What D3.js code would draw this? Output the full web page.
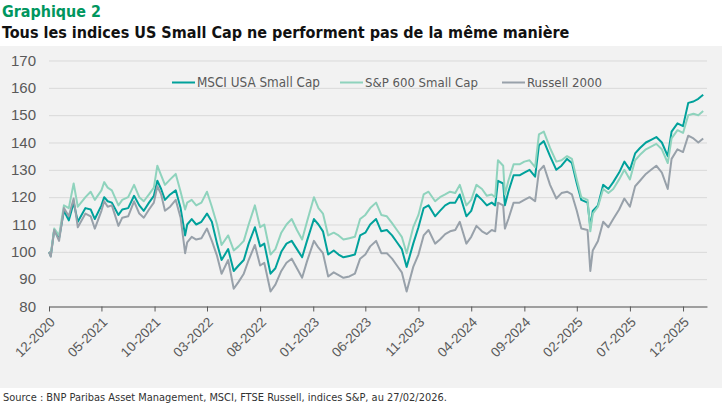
<!DOCTYPE html>
<html>
<head>
<meta charset="utf-8">
<script src="https://cdn.jsdelivr.net/npm/d3@7"></script>
<style>
  body { margin: 0; background: #fff; }
  svg { display: block; }
</style>
</head>
<body>
<div class="canvas"></div>
<script>
// dates of the points (roughly two per month + turning points)
const dates = [
  '2020-12-31',
  '2021-01-05','2021-01-15','2021-01-29','2021-02-12','2021-02-26','2021-03-12','2021-03-24','2021-04-15','2021-04-30',
  '2021-05-12','2021-05-31','2021-06-08','2021-06-18','2021-06-30','2021-07-19','2021-07-30','2021-08-16','2021-09-02',
  '2021-09-17','2021-09-30','2021-10-15','2021-10-29','2021-11-08','2021-11-19','2021-11-30','2021-12-15','2021-12-31',
  '2022-01-14','2022-01-27','2022-02-02','2022-02-15','2022-02-28','2022-03-15','2022-03-31','2022-04-14','2022-04-29',
  '2022-05-12','2022-05-31','2022-06-16','2022-06-30','2022-07-15','2022-07-29','2022-08-16','2022-08-31','2022-09-12',
  '2022-09-30','2022-10-14','2022-10-31','2022-11-15','2022-11-30','2022-12-15','2022-12-30',
  '2023-01-13','2023-02-02','2023-02-15','2023-02-28','2023-03-15','2023-03-31','2023-04-14','2023-04-28','2023-05-15',
  '2023-05-31','2023-06-15','2023-06-30','2023-07-14','2023-07-31','2023-08-15','2023-08-31','2023-09-15','2023-09-29',
  '2023-10-13','2023-10-27','2023-11-15','2023-11-30','2023-12-15','2023-12-29',
  '2024-01-17','2024-01-31','2024-02-15','2024-02-29','2024-03-15','2024-03-28','2024-04-16','2024-04-30','2024-05-15',
  '2024-05-31','2024-06-14','2024-06-28','2024-07-08','2024-07-16','2024-07-31','2024-08-05','2024-08-15','2024-08-30',
  '2024-09-16','2024-09-30','2024-10-15','2024-10-31','2024-11-11','2024-11-25','2024-12-13','2024-12-31',
  '2025-01-15','2025-01-31','2025-02-14','2025-02-28','2025-03-13','2025-03-31','2025-04-08','2025-04-15','2025-04-30',
  '2025-05-15','2025-05-30','2025-06-13','2025-06-30','2025-07-15','2025-07-31','2025-08-15','2025-08-29','2025-09-15',
  '2025-09-30','2025-10-15','2025-10-31','2025-11-17','2025-11-28','2025-12-15','2025-12-31',
  '2026-01-15','2026-01-30','2026-02-13','2026-02-27'
];

const msci = [
  100,
  98.5, 108, 105, 115, 111.5, 118, 111, 116, 115.5,
  112, 117, 120, 118.5, 118, 113.5, 115.5, 116, 120.5,
  117, 115, 118, 120.5, 126, 123, 119, 121, 122.5,
  116, 106, 110, 112, 110, 111, 114, 111, 103,
  97, 101, 93, 95, 97, 103, 109, 102, 103,
  92, 94, 100, 103, 104, 101, 98,
  104, 112, 110, 107.5, 99, 100.5, 99, 98, 98.5,
  99, 106, 107, 110, 112, 107.5, 108, 106, 103.5,
  101, 94.5, 103, 109, 116, 117,
  113, 115, 117, 118, 118, 121, 113, 115, 121,
  119, 117, 118, 117, 126, 125, 117, 122, 128,
  128, 129, 130, 127.5, 139, 140.5, 135, 130,
  131.5, 134, 132.5, 125, 119, 118, 109, 115, 117,
  124.5, 123, 125.5, 129, 133, 130, 136, 138, 140,
  141, 142, 140, 135, 144, 147, 146,
  154.5, 155, 156, 157.5
];

const sp600 = [
  100,
  99, 108.5, 106, 117, 116, 125, 116.5, 120, 122,
  119, 122.5, 125.5, 123.5, 122.5, 117, 119, 120, 124.5,
  120, 118.5, 121, 123.5, 131.5, 128, 124.5, 126.5, 128.5,
  122, 115.5, 118, 119, 117, 118, 122, 116.5, 110,
  102.5, 106, 100.5, 102, 104, 110, 117, 109, 110,
  99, 101, 107, 110, 112, 108, 104.5,
  111, 120, 116, 114, 106, 107, 106, 104.5, 105,
  105.5, 112, 113.5, 116, 118, 113.5, 113, 110.5, 108,
  105.5, 99.5, 109, 113.5, 121, 122,
  118.5, 120, 121, 122, 121.5, 124.5, 117, 119, 124.5,
  123, 120.5, 121, 120, 133.5, 131.5, 121, 126, 132,
  132, 133, 133.5, 131, 143, 144, 138, 133,
  133.5, 135, 134, 126.5, 120, 119, 107.5, 114, 116.5,
  123, 121.5, 123, 126.5, 130, 126.5, 133.5, 135.5, 137.5,
  138.5, 139.5, 137.5, 132.5, 141.5, 144.5, 143.5,
  150, 150.5, 150, 151.5
];

const russell = [
  100,
  98.2, 108, 104, 116, 113, 119.5, 109, 114, 113,
  108.5, 115, 118.5, 116.5, 117, 109.5, 112.5, 113, 118.5,
  114, 112.5, 115.5, 118, 124, 121, 115, 116.5, 119,
  112.5, 99.5, 103.5, 105.5, 104.5, 105, 108.5, 104, 98.5,
  92, 97, 86.5, 89, 92, 97, 102.5, 95, 96,
  85.5, 88, 93, 96, 97.5, 94, 90.5,
  96.5, 104, 101.5, 99.5, 91, 92.5, 91.5, 90.5, 91,
  92, 97.5, 99, 102, 104, 99.5, 99.5, 97.5, 95,
  92.5, 85.5, 94.5, 99, 106, 108,
  103, 104.5, 106.5, 107.5, 108, 111, 103, 105.5, 109.5,
  107.5, 106.5, 108, 107.5, 118, 117, 108.5, 112, 118,
  118, 119, 120, 118.5, 129.5, 131.5, 124.5, 119.5,
  121.5, 122, 121, 115, 108.5, 108, 93, 100.5, 104,
  111, 109, 112, 115.5, 119.5, 116.5, 124, 126, 128.5,
  130, 131.5, 129, 123, 134, 137.5, 136.5,
  142.5, 141.5, 140, 141.5
];

const seriesNames = ['MSCI USA Small Cap', 'S&P 600 Small Cap', 'Russell 2000'];
const seriesColors = ['#00a19b', '#8fd3bd', '#98a1aa'];
const yTicks = [80, 90, 100, 110, 120, 130, 140, 150, 160, 170];
const xTicks = ['2020-12-31','2021-05-31','2021-10-31','2022-03-31','2022-08-31','2023-01-31','2023-06-30',
                '2023-11-30','2024-04-30','2024-09-30','2025-02-28','2025-07-31','2025-12-31'];

const parse = d3.timeParse('%Y-%m-%d');
const narrow = "'Liberation Sans Narrow','DejaVu Sans Condensed',sans-serif";

const svg = d3.select('.canvas')
    .append('svg')
    .attr('width', 725)
    .attr('height', 406);

// fit a text element to a measured width by scaling its font size
function fit(sel, w) {
    sel.each(function (d, i) {
        const t = d3.select(this);
        const target = typeof w === 'function' ? w(d, i) : w;
        const len = this.getComputedTextLength();
        t.attr('font-size', parseFloat(t.attr('font-size')) * target / len);
    });
}

// titles
svg.append('text')
    .attr('x', 2).attr('y', 17)
    .attr('font-family', narrow).attr('font-weight', 'bold')
    .attr('font-size', 19).attr('fill', '#00965e')
    .text('Graphique 2')
    .call(fit, 99);

svg.append('text')
    .attr('x', 2).attr('y', 38)
    .attr('font-family', narrow).attr('font-weight', 'bold')
    .attr('font-size', 19).attr('fill', '#111')
    .text('Tous les indices US Small Cap ne performent pas de la même manière')
    .call(fit, 568);

// panel
svg.append('rect')
    .attr('x', 0).attr('y', 46)
    .attr('width', 722).attr('height', 342)
    .attr('fill', '#f2f2f2');

const x = d3.scaleTime()
    .domain([parse('2020-12-31'), parse('2026-03-10')])
    .range([49, 707]);

const y = d3.scaleLinear()
    .domain([80, 170])
    .range([306.5, 60.5]);

// y axis + gridlines
const yAxisGroup = svg.append('g').attr('transform', 'translate(49,0)');
yAxisGroup.call(d3.axisLeft(y).tickValues(yTicks).tickSize(-658).tickPadding(13));
yAxisGroup.select('.domain').remove();
yAxisGroup.selectAll('line').attr('stroke', '#d9d9d9');
yAxisGroup.selectAll('text')
    .attr('font-family', "'Liberation Sans',Arial,sans-serif")
    .attr('font-size', 15)
    .attr('fill', '#595959');

// lines
const line = d3.line()
    .x(d => x(d.date))
    .y(d => y(d.value));

const allSeries = [msci, sp600, russell].map((vals, i) => ({
    name: seriesNames[i],
    color: seriesColors[i],
    points: vals.map((v, j) => ({ date: parse(dates[j]), value: v }))
}));

svg.append('g').selectAll('path')
    .data(allSeries)
    .enter()
    .append('path')
    .attr('fill', 'none')
    .attr('stroke', d => d.color)
    .attr('stroke-width', 2)
    .attr('stroke-linejoin', 'round')
    .attr('d', d => line(d.points));

// x axis
const xAxisGroup = svg.append('g').attr('transform', `translate(0,${y(80)})`);
xAxisGroup.call(d3.axisBottom(x)
    .tickValues(xTicks.map(parse))
    .tickSize(5)
    .tickSizeOuter(0)
    .tickFormat(d3.timeFormat('%m-%Y')));
xAxisGroup.select('.domain').attr('stroke', '#595959');
xAxisGroup.selectAll('line').attr('stroke', '#595959');
xAxisGroup.selectAll('text')
    .attr('x', 0).attr('y', 0).attr('dy', '0.35em')
    .attr('text-anchor', 'end')
    .attr('transform', 'translate(3,13) rotate(-45)')
    .attr('font-family', "'Liberation Sans',Arial,sans-serif")
    .attr('font-size', 13.5)
    .attr('fill', '#595959');

// legend
const legendX = [172, 340, 502];
const legendW = [123, 113, 75];
const legend = svg.append('g').selectAll('g')
    .data(allSeries)
    .enter()
    .append('g')
    .attr('transform', (d, i) => `translate(${legendX[i]},82.5)`);
legend.append('line')
    .attr('x1', 0).attr('x2', 23)
    .attr('stroke', d => d.color)
    .attr('stroke-width', 2);
legend.append('text')
    .attr('x', 25).attr('dy', '0.36em')
    .attr('font-family', narrow)
    .attr('font-size', 15)
    .attr('fill', '#595959')
    .text(d => d.name)
    .call(fit, (d, i) => legendW[i]);

// source
svg.append('text')
    .attr('x', 3).attr('y', 401)
    .attr('font-family', narrow)
    .attr('font-size', 12)
    .attr('fill', '#333')
    .text('Source : BNP Paribas Asset Management, MSCI, FTSE Russell, indices S&P, au 27/02/2026.')
    .call(fit, 444);
</script>
</body>
</html>
